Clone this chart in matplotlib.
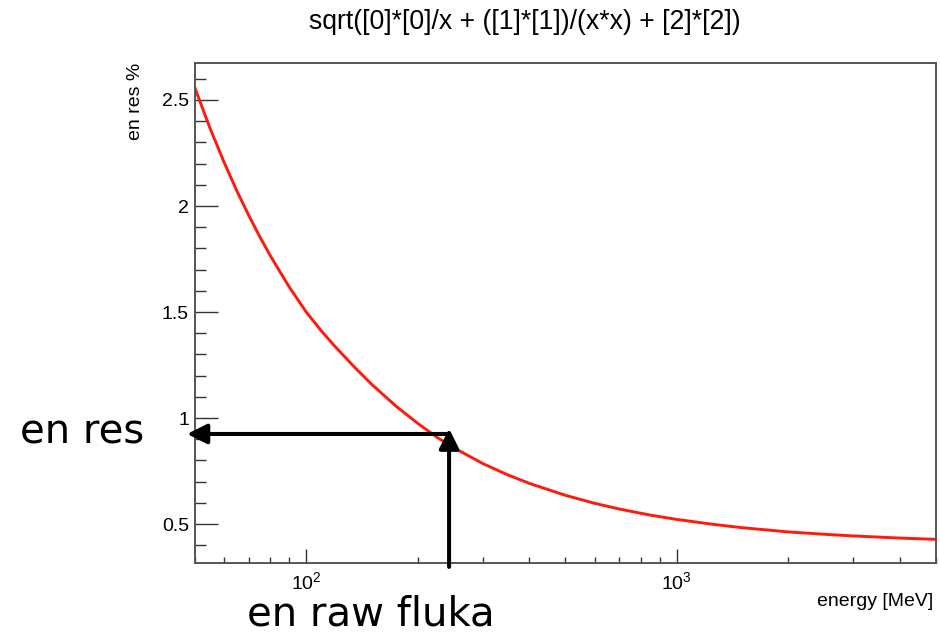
import matplotlib
matplotlib.use('Agg')
from matplotlib import pyplot as plt
from matplotlib.ticker import LogLocator, FixedLocator, NullFormatter, FuncFormatter

plt.rcParams['font.family'] = ['Liberation Sans', 'DejaVu Sans']
plt.rcParams['mathtext.fontset'] = 'custom'
plt.rcParams['mathtext.rm'] = 'Liberation Sans'
plt.rcParams['mathtext.it'] = 'Liberation Sans'

# values
energy = [50, 55, 60, 65, 70, 75, 80, 90, 100, 110, 120, 135, 150, 175, 200, 225,
          250, 300, 350, 400, 500, 600, 700, 850, 1000, 1250, 1500, 2000, 2500,
          3000, 4000, 5000]
res = [2.560, 2.367, 2.207, 2.071, 1.955, 1.854, 1.766, 1.618, 1.500, 1.410,
       1.335, 1.240, 1.160, 1.055, 0.975, 0.910, 0.860, 0.785, 0.732, 0.692,
       0.636, 0.598, 0.571, 0.542, 0.522, 0.499, 0.483, 0.463, 0.452, 0.444,
       0.434, 0.428]

y_ticks = [0.5, 1, 1.5, 2, 2.5]
title = 'sqrt([0]*[0]/x + ([1]*[1])/(x*x) + [2]*[2])'

# the hand-drawn read-off arrows
arrow_energy = 243
arrow_res = 0.925

fig = plt.figure(figsize=(9.4, 6.35), dpi=100)
ax = fig.add_axes([0.2071, 0.1129, 0.7883, 0.7874])

ax.plot(energy, res, color='#ff1a0e', lw=2.1, solid_capstyle='butt')

ax.set_xscale('log')
ax.set_xlim(50, 5000)
ax.set_ylim(0.315, 2.673)

ax.xaxis.set_major_locator(LogLocator(base=10))
ax.xaxis.set_minor_locator(LogLocator(base=10, subs=[2, 3, 4, 5, 6, 7, 8, 9]))
ax.xaxis.set_minor_formatter(NullFormatter())
ax.yaxis.set_major_locator(FixedLocator(y_ticks))
ax.yaxis.set_minor_locator(FixedLocator([i / 10 for i in range(4, 27)]))
ax.yaxis.set_major_formatter(FuncFormatter(lambda v, p: '%g' % v))

ax.tick_params(axis='y', which='major', direction='in', length=16.5, width=1.0,
               color='#333333', labelsize=14, pad=4)
ax.tick_params(axis='y', which='minor', direction='in', length=8, width=1.0, color='#333333')
ax.tick_params(axis='x', which='major', direction='in', length=10, width=1.0,
               color='#333333', labelsize=14, pad=6)
ax.tick_params(axis='x', which='minor', direction='in', length=4.5, width=1.0, color='#333333')
ax.tick_params(top=False, right=False)

for s in ax.spines.values():
    s.set_color('#555555')
    s.set_linewidth(1.4)

fig.text(524.5 / 940, 1 - 22 / 635, title, ha='center', va='center', fontsize=19.2)
fig.text(135 / 940, 1 - 63 / 635, 'en res %', ha='center', va='top', rotation=90, fontsize=14)
fig.text(933 / 940, 1 - 606 / 635, 'energy [MeV]', ha='right', va='baseline', fontsize=14)

head = '-|>,head_length=0.6,head_width=0.3'
ax.annotate('', xy=(47.7, arrow_res), xytext=(arrow_energy, arrow_res),
            arrowprops=dict(arrowstyle=head, lw=2.9, color='black', mutation_scale=20,
                            shrinkA=0, shrinkB=0),
            annotation_clip=False)
ax.annotate('', xy=(arrow_energy, 0.95), xytext=(arrow_energy, 0.298),
            arrowprops=dict(arrowstyle=head, lw=2.9, color='black', mutation_scale=20,
                            shrinkA=0, shrinkB=0),
            annotation_clip=False)

fig.text(20 / 940, 1 - 444 / 635, 'en res', ha='left', va='baseline', fontsize=29,
         family='DejaVu Sans')
fig.text(247 / 940, 1 - 625 / 635, 'en raw fluka', ha='left', va='baseline', fontsize=29,
         family='DejaVu Sans')

fig.savefig('out.png', dpi=100)
